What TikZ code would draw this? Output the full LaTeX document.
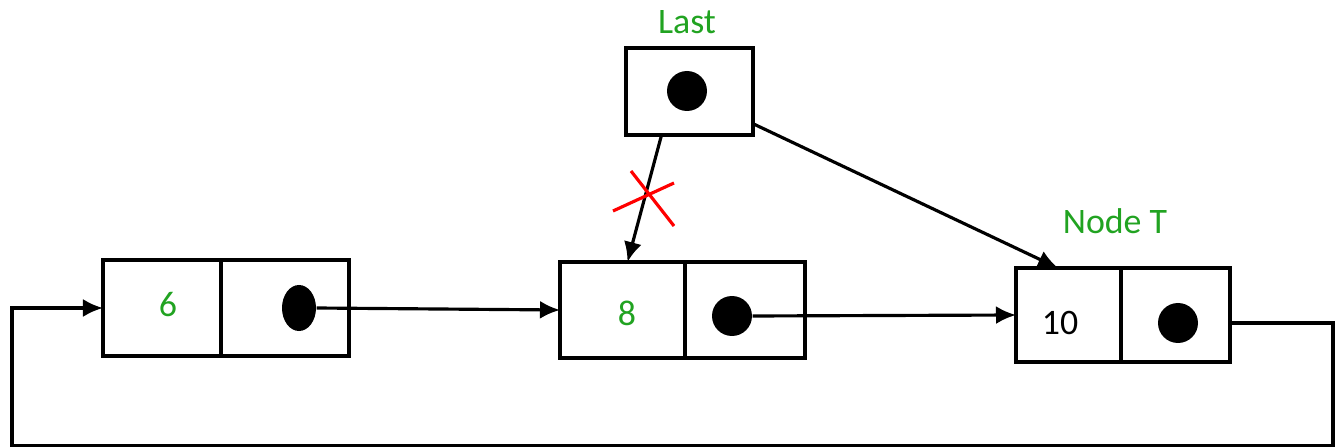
\documentclass[tikz,border=0pt]{standalone}
\usepackage{fontspec}
\setmainfont{Carlito}
\usepackage{xcolor}
\usepackage{tikz}
\usetikzlibrary{calc}
\usetikzlibrary{positioning,arrows.meta}
\usetikzlibrary{shapes.geometric}
\definecolor{txtgreen}{RGB}{33,163,33}

\begin{document}
\begin{tikzpicture}[
		cell/.style={draw,line width=1pt,inner sep=0pt,outer sep=0pt},
		dot/.style={fill=black,circle,inner sep=0pt,minimum size=0.4cm},
		link/.style={-{Latex[length=2mm,width=1.8mm]},line width=0.9pt},
		val/.style={font=\fontsize{10.2}{12}\selectfont,inner sep=0pt},
		lbl/.style={font=\fontsize{10.2}{12}\selectfont,text=txtgreen,inner sep=0pt}]
		\useasboundingbox (0,0) rectangle (13.41,4.47);
		% list nodes
		\node[cell,minimum width=1.18cm,minimum height=0.96cm] (n6data) at (1.62,1.39) {};
		\node[cell,minimum width=1.28cm,minimum height=0.96cm,right=0cm of n6data] (n6next) {};
		\node[cell,minimum width=1.25cm,minimum height=0.96cm] (n8data) at (6.225,1.37) {};
		\node[cell,minimum width=1.20cm,minimum height=0.96cm,right=0cm of n8data] (n8next) {};
		\node[cell,minimum width=1.05cm,minimum height=0.94cm] (n10data) at (10.685,1.32) {};
		\node[cell,minimum width=1.09cm,minimum height=0.94cm,right=0cm of n10data] (n10next) {};
		\node[cell,minimum width=1.27cm,minimum height=0.87cm] (last) at (6.895,3.555) {};
		% values
		\node[val,text=txtgreen] (v6) at (1.68,1.42) {6};
		\node[val,text=txtgreen] (v8) at (6.27,1.34) {8};
		\node[val] (v10) at (10.60,1.24) {10};
		% pointers
		\node[dot,shape=ellipse,minimum width=0.34cm,minimum height=0.46cm] (d6) at (2.99,1.39) {};
		\node[dot] (d8) at (7.32,1.31) {};
		\node[dot] (d10) at (11.78,1.24) {};
		\node[dot] (dlast) at (6.87,3.56) {};
		\node[lbl] (lastlbl) at (6.87,4.25) {Last};
		\node[lbl] (tlbl) at (11.15,2.26) {Node T};
		% arrows
		\draw[link] (d6.east) -- (n8data.west);
		\draw[link] (d8.east) -- (n10data.west);
		\draw[link] ($(last.south west)!0.28!(last.south east)$) -- ($(n8data.north west)!0.54!(n8data.north east)$);
		\draw[link] ($(last.north east)!0.87!(last.south east)$) -- ($(n10data.north west)!0.4!(n10data.north east)$);
		\coordinate (loopr) at (13.33,0.012);
		\coordinate (loopl) at (0.12,0.012);
		\draw[link] (d10 -| n10next.east) -| (loopr) -- (loopl) |- (n6data.west);
		% removed link
		\draw[red,line width=0.9pt] (6.31,2.76) -- (6.74,2.21) (6.13,2.36) -- (6.74,2.64);
	\end{tikzpicture}
\end{document}
